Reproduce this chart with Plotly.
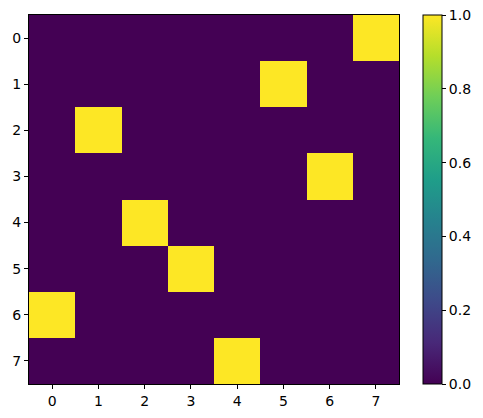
import plotly.graph_objects as go

rows = [0, 1, 2, 3, 4, 5, 6, 7]
cols = [0, 1, 2, 3, 4, 5, 6, 7]
perm = [7, 5, 1, 6, 2, 3, 0, 4]  # column of the 1 in each row
z = [[1 if c == perm[r] else 0 for c in cols] for r in rows]

cb_ticks = [0.0, 0.2, 0.4, 0.6, 0.8, 1.0]

fig = go.Figure(go.Heatmap(
    z=z, x=cols, y=rows, colorscale="Viridis", zmin=0, zmax=1,
    colorbar=dict(
        x=(423 - 29) / 370, xanchor="left", xref="paper",
        y=0.5, yanchor="middle", len=1, lenmode="fraction",
        thickness=19, outlinecolor="black", outlinewidth=1,
        tickvals=cb_ticks, ticktext=[f"{v:.1f}" for v in cb_ticks],
        ticks="outside", ticklen=4, tickcolor="black",
        ticklabeloverflow="allow",
        tickfont=dict(family="DejaVu Sans", size=14, color="black"),
        xpad=0, ypad=0,
    ),
))

axis_common = dict(
    showline=True, mirror=True, linecolor="black", linewidth=1,
    ticks="outside", ticklen=4, tickcolor="black", showgrid=False, zeroline=False,
    automargin=False, ticklabeloverflow="allow",
    tickfont=dict(family="DejaVu Sans", size=14, color="black"),
)
fig.update_xaxes(tickvals=cols, ticktext=[str(c) for c in cols], range=[-0.5, 7.5], **axis_common)
fig.update_yaxes(tickvals=rows, ticktext=[str(r) for r in rows], range=[7.5, -0.5], **axis_common)

# page body has an 8px default margin, so the figure is sized/offset to compensate
fig.update_layout(
    width=475, height=410,
    margin=dict(l=21, r=84, t=7, b=34, autoexpand=False),
    paper_bgcolor="white", plot_bgcolor="white",
)
fig.write_html("out.html")
